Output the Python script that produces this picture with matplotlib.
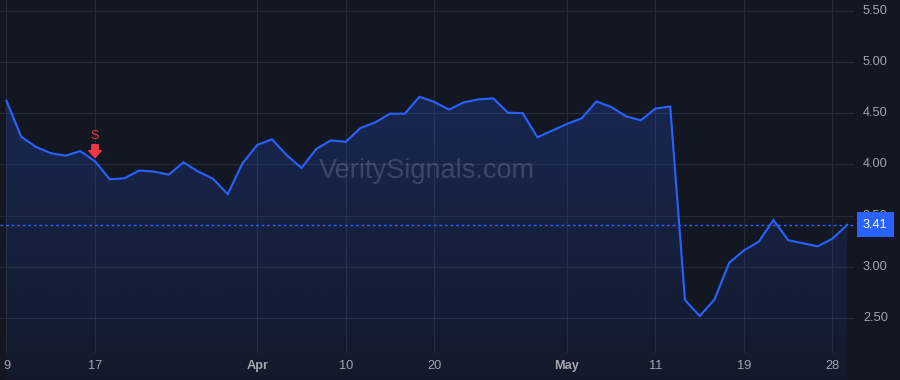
import numpy as np
import pandas as pd
import matplotlib
matplotlib.use("Agg")
import matplotlib.pyplot as plt
from matplotlib.patches import Polygon
from matplotlib.transforms import blended_transform_factory

# trading days Mar 9 - May 29 (market shut Good Friday and Memorial Day)
dates = pd.bdate_range("2026-03-09", "2026-05-29", freq="C",
                       holidays=["2026-04-03", "2026-05-25"])

prices = [4.62, 4.27, 4.17, 4.11, 4.085, 4.13, 4.03, 3.855, 3.865, 3.94,
          3.93, 3.90, 4.02, 3.93, 3.86, 3.71, 4.01, 4.19, 4.245, 4.09,
          3.965, 4.15, 4.235, 4.22, 4.355, 4.41, 4.495, 4.495, 4.66, 4.61,
          4.535, 4.605, 4.635, 4.645, 4.505, 4.50, 4.265, 4.33, 4.395, 4.45,
          4.615, 4.56, 4.47, 4.43, 4.545, 4.565, 2.676, 2.52, 2.68, 3.04,
          3.16, 3.245, 3.457, 3.26, 3.23, 3.20, 3.275, 3.41]

price_ticks = [2.50, 3.00, 3.50, 4.00, 4.50, 5.00, 5.50]
date_ticks = ["2026-03-09", "2026-03-17", "2026-04-01", "2026-04-10", "2026-04-20",
              "2026-05-01", "2026-05-11", "2026-05-19", "2026-05-28"]
date_labels = ["9", "17", "Apr", "10", "20", "May", "11", "19", "28"]
month_labels = ["Apr", "May"]
signal_date = "2026-03-17"
signal_label = "S"
last_price = prices[-1]

# colours
bg = "#131722"
blue = "#2962ff"
red = "#f23645"
grid_col = "#262b37"
text_col = "#a3a6af"

plt.rcParams["font.family"] = ["Liberation Sans", "DejaVu Sans"]

fig = plt.figure(figsize=(9, 3.8), dpi=100, facecolor=bg)
ax = fig.add_axes([0, 0, 1, 1])
ax.set_facecolor(bg)
ax.set_axis_off()

x = np.arange(len(dates))
xlo, xhi = -0.44, 60.58
ylo, yhi = 1.895, 5.605

# grid
plot_right = 853 / 900
plot_bottom = 28 / 380
for p in price_ticks:
    ax.axhline(p, xmin=0, xmax=plot_right, color=grid_col, lw=0.8, zorder=0)
tick_pos = dates.get_indexer(pd.to_datetime(date_ticks))
for t in tick_pos:
    ax.axvline(t, ymin=plot_bottom, ymax=1, color=grid_col, lw=0.8, zorder=0)

# gradient area under the line
top = max(prices)
n = 256
rgba = np.zeros((n, 1, 4))
rgba[..., :3] = matplotlib.colors.to_rgb(blue)
rgba[:, 0, 3] = np.linspace(0.22, 0.04, n)
im = ax.imshow(rgba, extent=[x[0], x[-1], ylo, top], aspect="auto",
               origin="upper", zorder=1, interpolation="bilinear")
poly = Polygon(np.column_stack([np.r_[x[0], x, x[-1]], np.r_[ylo, prices, ylo]]),
               closed=True, facecolor="none", edgecolor="none")
ax.add_patch(poly)
im.set_clip_path(poly)

# price line
ax.plot(x, prices, color=blue, lw=1.5, zorder=3, solid_joinstyle="miter")

# last price dotted line + label
ax.axhline(last_price, xmin=0, xmax=854 / 900, color=blue, lw=1.0,
           linestyle=(0, (2, 2)), zorder=2)

trans_r = blended_transform_factory(ax.transAxes, ax.transData)
for p in price_ticks:
    ax.text(863 / 900, p, f"{p:.2f}", transform=trans_r, ha="left", va="center",
            fontsize=9.2, color=text_col, zorder=4)
ax.text(863 / 900, last_price, f"{last_price:.2f}", transform=trans_r,
        ha="left", va="center", fontsize=9.2, color="white", zorder=6,
        bbox=dict(boxstyle="square,pad=0.5", facecolor=blue, edgecolor="none"))

# date labels
trans_b = blended_transform_factory(ax.transData, ax.transAxes)
for t, lab in zip(tick_pos, date_labels):
    ax.text(t, 14 / 380, lab, transform=trans_b, ha="center", va="center",
            fontsize=9.2, color=text_col,
            fontweight="bold" if lab in month_labels else "normal")

# sell signal
si = dates.get_loc(pd.Timestamp(signal_date))
ax.annotate("", xy=(si, prices[si]), xytext=(0, 12), textcoords="offset points",
            arrowprops=dict(arrowstyle="simple,head_length=0.55,head_width=1.0,tail_width=0.5",
                            color=red, shrinkA=0, shrinkB=2.7, mutation_scale=9),
            zorder=5)
ax.annotate(signal_label, xy=(si, prices[si]), xytext=(0, 18.5),
            textcoords="offset points", ha="center", va="center",
            fontsize=9, color=red, zorder=5)

# watermark
ax.text(427 / 900, 1 - 171 / 380, "VeritySignals.com", transform=ax.transAxes,
        ha="center", va="center", fontsize=19.5, color="#8a93ad", alpha=0.32,
        zorder=2)

ax.set_xlim(xlo, xhi)
ax.set_ylim(ylo, yhi)

fig.savefig("out.png", dpi=100, facecolor=bg)
